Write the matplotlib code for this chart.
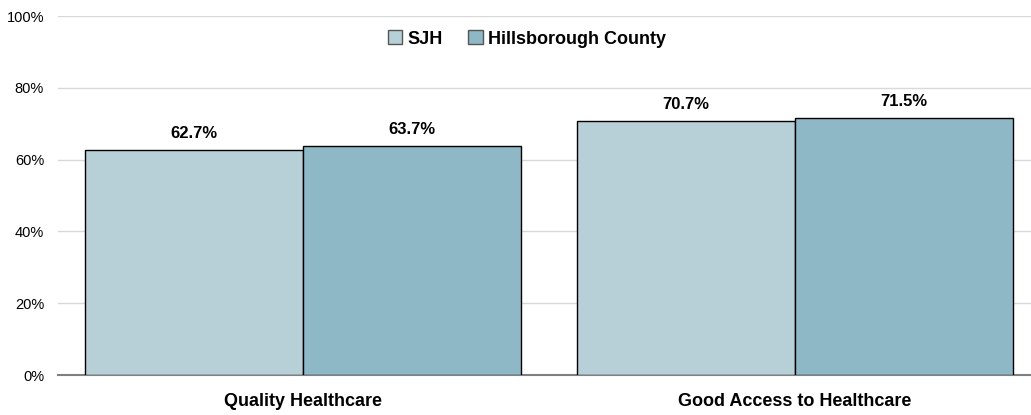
import numpy as np
import matplotlib.pyplot as plt
from matplotlib.ticker import PercentFormatter
from matplotlib import font_manager

# ====== 데이터 ======
categories = ['Quality Healthcare', 'Good Access to Healthcare']
series_names = ['SJH', 'Hillsborough County']
sjh = [62.7, 70.7]
county = [63.7, 71.5]
y_ticks = [0, 20, 40, 60, 80, 100]

colors = ['#b7cfd7', '#8fb8c6']

# ====== 폰트 ======
names = {f.name for f in font_manager.fontManager.ttflist}
base = 'Liberation Sans Narrow' if 'Liberation Sans Narrow' in names else 'Liberation Sans'
plt.rcParams['font.family'] = [base, 'DejaVu Sans']

# ====== 그림 ======
fig = plt.figure(figsize=(10.31, 4.15), dpi=100)
ax = fig.add_axes([58 / 1031, 40 / 415, 973 / 1031, 359 / 415])

x = np.arange(len(categories))
w = 0.443
for i, (vals, name) in enumerate(zip([sjh, county], series_names)):
    pos = x + (i - 0.5) * w
    bars = ax.bar(pos, vals, width=w, color=colors[i], edgecolor='black',
                  linewidth=1.0, label=name, zorder=3)
    for b, v in zip(bars, vals):
        ax.text(b.get_x() + b.get_width() / 2, v + 2.6, f'{v:.1f}%',
                ha='center', va='bottom', fontsize=12, fontweight='bold')

ax.set_xlim(-0.498, 1.48)
ax.set_ylim(0, 100)
ax.set_yticks(y_ticks)
ax.yaxis.set_major_formatter(PercentFormatter(decimals=0))
ax.grid(axis='y', color='#d9d9d9', linewidth=1.0, zorder=0)
ax.set_xticks(x)
ax.set_xticklabels(categories, fontsize=13, fontweight='bold')
ax.tick_params(axis='x', length=0, pad=13)
ax.tick_params(axis='y', length=0, labelsize=10.5, pad=10)
for s in ['top', 'right', 'left']:
    ax.spines[s].set_visible(False)
ax.spines['bottom'].set_color('#808080')
ax.spines['bottom'].set_linewidth(1.5)

leg = ax.legend(loc='upper center', bbox_to_anchor=(0.482, 1.005), ncol=2,
                frameon=False, prop={'weight': 'bold', 'size': 13},
                handlelength=0.8, handleheight=0.8, handletextpad=0.3,
                columnspacing=1.4)
for h in leg.legend_handles:
    h.set_edgecolor('#555555')

fig.savefig('out.png', dpi=100)
